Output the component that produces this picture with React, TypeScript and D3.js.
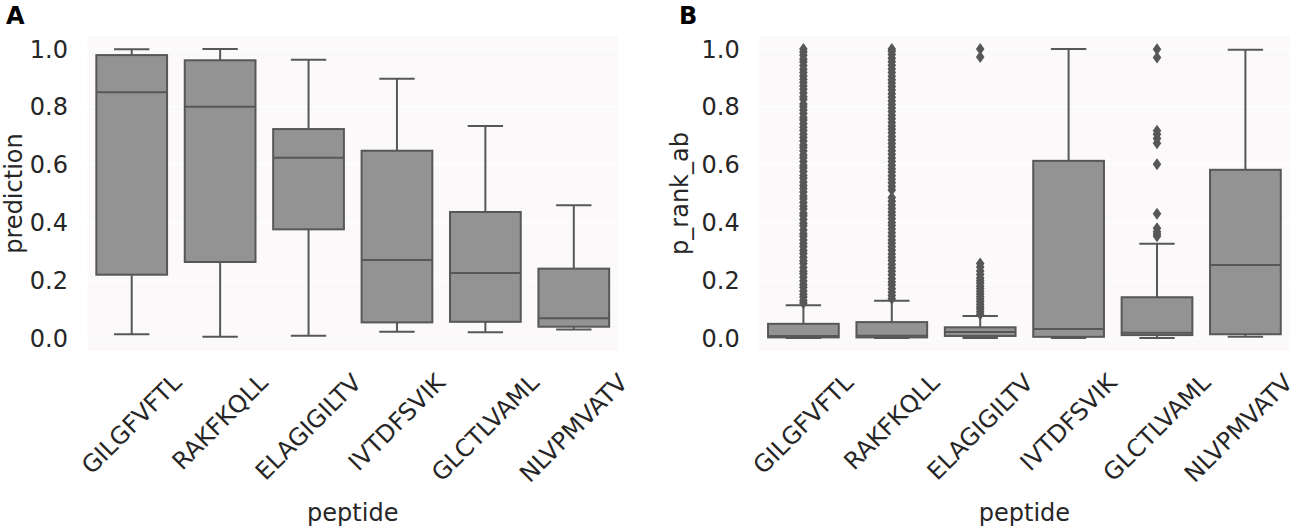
import * as d3 from "d3";
import * as React from "react";

const peptides = ["GILGFVFTL", "RAKFKQLL", "ELAGIGILTV", "IVTDFSVIK", "GLCTLVAML", "NLVPMVATV"];

// panel A: prediction
const predWhiskerLow = [0.013, 0.004, 0.008, 0.022, 0.020, 0.029];
const predQ1 = [0.219, 0.263, 0.376, 0.054, 0.056, 0.039];
const predMedian = [0.850, 0.800, 0.624, 0.270, 0.225, 0.068];
const predQ3 = [0.979, 0.961, 0.723, 0.648, 0.436, 0.240];
const predWhiskerHigh = [0.999, 1.0, 0.963, 0.897, 0.734, 0.459];
const predOutliers: number[][] = [[], [], [], [], [], []];

// panel B: p_rank_ab
const rankWhiskerLow = [0.0, 0.0, 0.0, 0.0, 0.0, 0.004];
const rankQ1 = [0.002, 0.002, 0.007, 0.004, 0.010, 0.013];
const rankMedian = [0.007, 0.008, 0.021, 0.031, 0.018, 0.253];
const rankQ3 = [0.049, 0.055, 0.037, 0.613, 0.141, 0.582];
const rankWhiskerHigh = [0.113, 0.129, 0.076, 1.0, 0.326, 0.997];

const rankOutliersGILGFVFTL = [
    0.121, 0.13, 0.142, 0.151, 0.163, 0.176, 0.185, 0.197, 0.21, 0.222, 0.231, 0.244,
    0.258, 0.267, 0.279, 0.292, 0.303, 0.316, 0.327, 0.339, 0.352, 0.361, 0.374, 0.388,
    0.397, 0.41, 0.423, 0.432, 0.446, 0.457, 0.469, 0.482, 0.491, 0.505, 0.517, 0.528,
    0.54, 0.553, 0.562, 0.576, 0.588, 0.597, 0.611, 0.624, 0.633, 0.647, 0.659, 0.668,
    0.682, 0.694, 0.705, 0.718, 0.729, 0.741, 0.754, 0.763, 0.777, 0.789, 0.8, 0.81,
    0.826, 0.835, 0.848, 0.861, 0.872, 0.884, 0.895, 0.907, 0.919, 0.93, 0.943, 0.956,
    0.965, 0.978, 0.99, 1.0,
];
const rankOutliersRAKFKQLL = [
    0.136, 0.147, 0.158, 0.17, 0.183, 0.194, 0.205, 0.219, 0.231, 0.243, 0.255, 0.268,
    0.279, 0.291, 0.304, 0.316, 0.328, 0.339, 0.352, 0.364, 0.377, 0.389, 0.4, 0.413,
    0.425, 0.436, 0.448, 0.46, 0.473, 0.486, 0.512, 0.524, 0.537, 0.549, 0.561, 0.574,
    0.586, 0.598, 0.611, 0.623, 0.636, 0.648, 0.661, 0.673, 0.685, 0.697, 0.71, 0.722,
    0.734, 0.746, 0.759, 0.771, 0.784, 0.796, 0.808, 0.82, 0.833, 0.845, 0.858, 0.87,
    0.882, 0.894, 0.906, 0.919, 0.931, 0.944, 0.956, 0.968, 0.981, 0.992, 1.0,
];
const rankOutliersELAGIGILTV = [
    0.082, 0.091, 0.1, 0.108, 0.117, 0.126, 0.135, 0.144, 0.153, 0.162, 0.171, 0.18,
    0.19, 0.199, 0.208, 0.22, 0.232, 0.246, 0.258, 0.972, 1.0,
];
const rankOutliersIVTDFSVIK: number[] = [];
const rankOutliersGLCTLVAML = [0.352, 0.36, 0.368, 0.38, 0.43, 0.601, 0.674, 0.69, 0.705, 0.717, 0.971, 0.999];
const rankOutliersNLVPMVATV: number[] = [];

const rankOutliers = [
    rankOutliersGILGFVFTL, rankOutliersRAKFKQLL, rankOutliersELAGIGILTV,
    rankOutliersIVTDFSVIK, rankOutliersGLCTLVAML, rankOutliersNLVPMVATV,
];

const yTicks = [0, 0.2, 0.4, 0.6, 0.8, 1.0];

const FONT = "DejaVu Sans, sans-serif";
const TEXT = "#262626";
const LINE = "#575757";
const FILL = "#939393";
const BG = "#fbf9fa";

const WIDTH = 1299;
const HEIGHT = 531;

interface PanelProps {
    letter: string;
    letterX: number;
    left: number;
    right: number;
    yLabel: string;
    yLabelX: number;
    low: number[];
    q1: number[];
    median: number[];
    q3: number[];
    high: number[];
    outliers: number[][];
}

const TOP = 36;
const BOTTOM = 351;
const LABEL_TOP = 370;

function Panel(props: PanelProps): JSX.Element {
    const ref = React.useRef<SVGGElement>(null);

    const x = d3.scaleBand<string>().domain(peptides).range([props.left, props.right]).paddingInner(0).paddingOuter(0);
    const y = d3.scaleLinear().domain([-0.045, 1.045]).range([BOTTOM, TOP]);
    const boxW = x.bandwidth() * 0.8;
    const capW = boxW * 0.5;
    const fmt = d3.format(".1f");

    React.useEffect(() => {
        // rotated tick labels: centre of the rotated bbox sits under the tick, top aligned
        d3.select(ref.current)
            .selectAll<SVGTextElement, unknown>("text.xtick")
            .each(function () {
                const len = this.getComputedTextLength();
                const half = (len + 24) * 0.3535;
                // keep the last label inside the figure
                const cx = Math.min(Number(this.getAttribute("data-x")), WIDTH - 2 - half);
                const cy = LABEL_TOP + half;
                d3.select(this)
                    .attr("x", cx)
                    .attr("y", cy)
                    .attr("transform", `rotate(-45,${cx},${cy})`);
            });
    }, []);

    const diamond = (cx: number, cy: number) =>
        `M${cx},${cy - 6}L${cx + 4.3},${cy}L${cx},${cy + 6}L${cx - 4.3},${cy}Z`;

    return (
        <g ref={ref} fontFamily={FONT}>
            <text x={props.letterX} y={24} fontSize={24} fontWeight="bold" fill="#000">{props.letter}</text>
            <rect x={props.left} y={TOP} width={props.right - props.left} height={BOTTOM - TOP} fill={BG} />
            {yTicks.map(t => (
                <g key={t}>
                    <line x1={props.left} x2={props.right} y1={y(t)} y2={y(t)} stroke="#ffffff" strokeWidth={1.2} />
                    <text x={props.left - 19.5} y={y(t)} dy="0.36em" textAnchor="end" fontSize={24} fill={TEXT}>{fmt(t)}</text>
                </g>
            ))}
            <text
                transform={`translate(${props.yLabelX},${(TOP + BOTTOM) / 2}) rotate(-90)`}
                textAnchor="middle"
                fontSize={24}
                fill={TEXT}
            >{props.yLabel}</text>
            {peptides.map((p, i) => {
                const cx = (x(p) ?? 0) + x.bandwidth() / 2;
                return (
                    <g key={p} stroke={LINE} strokeWidth={2}>
                        <line x1={cx} x2={cx} y1={y(props.q3[i])} y2={y(props.high[i])} />
                        <line x1={cx} x2={cx} y1={y(props.q1[i])} y2={y(props.low[i])} />
                        <line x1={cx - capW / 2} x2={cx + capW / 2} y1={y(props.high[i])} y2={y(props.high[i])} />
                        <line x1={cx - capW / 2} x2={cx + capW / 2} y1={y(props.low[i])} y2={y(props.low[i])} />
                        <rect
                            x={cx - boxW / 2}
                            y={y(props.q3[i])}
                            width={boxW}
                            height={y(props.q1[i]) - y(props.q3[i])}
                            fill={FILL}
                        />
                        <line x1={cx - boxW / 2} x2={cx + boxW / 2} y1={y(props.median[i])} y2={y(props.median[i])} />
                        {props.outliers[i].map((v, j) => (
                            <path key={j} d={diamond(cx, y(v))} fill={LINE} stroke="none" />
                        ))}
                    </g>
                );
            })}
            {peptides.map(p => (
                <text
                    key={p}
                    className="xtick"
                    data-x={(x(p) ?? 0) + x.bandwidth() / 2}
                    textAnchor="middle"
                    dominantBaseline="central"
                    fontSize={24}
                    fill={TEXT}
                >{p}</text>
            ))}
            <text x={(props.left + props.right) / 2} y={521} textAnchor="middle" fontSize={24} fill={TEXT}>peptide</text>
        </g>
    );
}

export default function App(): JSX.Element {
    return (
        <svg
            width={WIDTH}
            height={HEIGHT}
            style={{ position: "absolute", left: 0, top: 0, background: "#ffffff" }}
        >
            <Panel
                letter="A"
                letterX={6}
                left={87.5}
                right={618}
                yLabel="prediction"
                yLabelX={22}
                low={predWhiskerLow}
                q1={predQ1}
                median={predMedian}
                q3={predQ3}
                high={predWhiskerHigh}
                outliers={predOutliers}
            />
            <Panel
                letter="B"
                letterX={679}
                left={759.2}
                right={1289.6}
                yLabel="p_rank_ab"
                yLabelX={688}
                low={rankWhiskerLow}
                q1={rankQ1}
                median={rankMedian}
                q3={rankQ3}
                high={rankWhiskerHigh}
                outliers={rankOutliers}
            />
        </svg>
    );
}
